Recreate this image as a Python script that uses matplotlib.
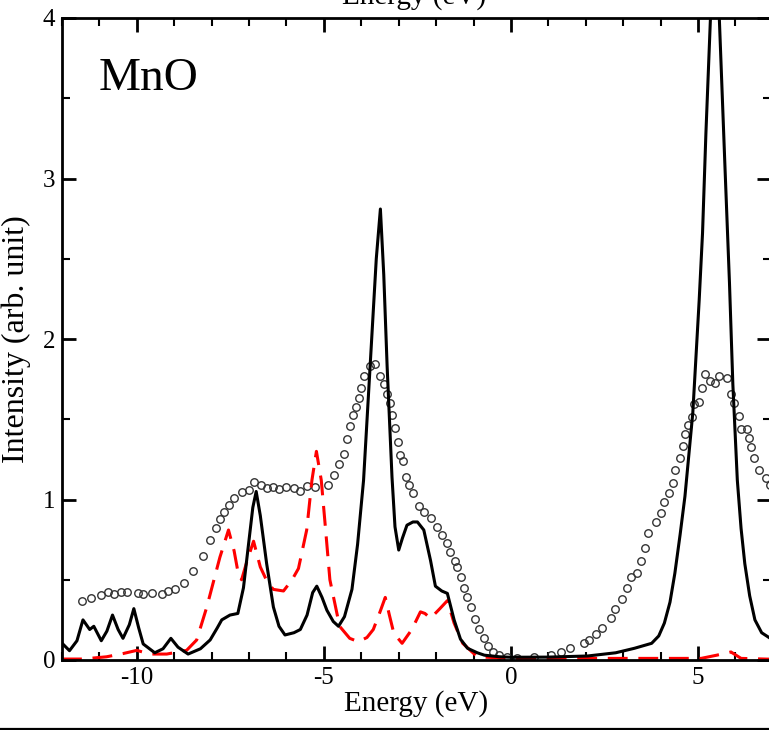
import matplotlib
matplotlib.use("Agg")
import matplotlib.pyplot as plt
from matplotlib.lines import Line2D
from matplotlib.ticker import MultipleLocator

plt.rcParams['font.family'] = ['Liberation Serif', 'DejaVu Serif']
plt.rcParams['axes.unicode_minus'] = False

# Linia ciągła (czarna)
energiaCiagla = [-12.0, -11.8, -11.6, -11.44, -11.26, -11.15, -10.95, -10.8, -10.65, -10.5,
                 -10.37, -10.2, -10.08, -9.95, -9.83, -9.52, -9.3, -9.09, -8.9, -8.63,
                 -8.3, -8.04, -7.85, -7.73, -7.51, -7.3, -7.15, -7.02, -6.9, -6.81,
                 -6.7, -6.53, -6.35, -6.2, -6.04, -5.8, -5.63, -5.45, -5.3, -5.19,
                 -5.05, -4.92, -4.75, -4.61, -4.45, -4.25, -4.1, -3.94, -3.76, -3.6,
                 -3.49, -3.4, -3.31, -3.18, -3.1, -3.0, -2.9, -2.78, -2.62, -2.5,
                 -2.33, -2.15, -2.02, -1.85, -1.7, -1.52, -1.35, -1.16, -0.9, -0.71,
                 -0.3, 0.0, 1.0, 2.05, 2.8, 3.3, 3.76, 3.95, 4.1, 4.25,
                 4.38, 4.52, 4.65, 4.86, 5.03, 5.12, 5.21, 5.33, 5.45, 5.57,
                 5.72, 5.84, 5.93, 6.05, 6.15, 6.25, 6.38, 6.52, 6.7, 6.93]
intensywnoscCiagla = [0.105, 0.058, 0.12, 0.25, 0.19, 0.21, 0.12, 0.18, 0.28, 0.19,
                      0.135, 0.22, 0.32, 0.2, 0.10, 0.045, 0.07, 0.135, 0.08, 0.037,
                      0.07, 0.125, 0.2, 0.25, 0.28, 0.29, 0.45, 0.71, 0.95, 1.05,
                      0.9, 0.60, 0.33, 0.21, 0.156, 0.17, 0.19, 0.28, 0.42, 0.46,
                      0.39, 0.31, 0.24, 0.21, 0.27, 0.44, 0.72, 1.12, 1.85, 2.5,
                      2.81, 2.4, 1.83, 1.14, 0.83, 0.685, 0.76, 0.84, 0.86, 0.86,
                      0.81, 0.62, 0.46, 0.43, 0.415, 0.25, 0.13, 0.073, 0.045, 0.03,
                      0.02, 0.017, 0.018, 0.025, 0.045, 0.073, 0.104, 0.15, 0.23, 0.36,
                      0.54, 0.78, 1.02, 1.54, 2.24, 2.66, 3.28, 3.99, 4.6, 3.99,
                      3.07, 2.35, 1.72, 1.12, 0.82, 0.60, 0.4, 0.25, 0.17, 0.135]

# Linia przerywana (czerwona)
energiaPrzerywana = [-12.0, -11.45, -10.81, -10.37, -10.0, -9.65, -9.2, -8.67, -8.4, -8.13,
                     -7.78, -7.55, -7.4, -7.29, -7.2, -7.05, -6.88, -6.7, -6.5, -6.35,
                     -6.08, -5.85, -5.68, -5.46, -5.32, -5.2, -5.07, -4.95, -4.84, -4.58,
                     -4.31, -4.08, -3.85, -3.68, -3.5, -3.36, -3.25, -3.13, -2.91, -2.65,
                     -2.42, -2.3, -2.15, -1.9, -1.7, -1.52, -1.29, -0.9, 0.0, 5.08,
                     5.5, 5.88, 6.15, 6.93]
intensywnoscPrzerywana = [0.006, 0.006, 0.02, 0.04, 0.06, 0.037, 0.037, 0.06, 0.125, 0.33,
                          0.64, 0.81, 0.68, 0.54, 0.50, 0.62, 0.74, 0.58, 0.48, 0.44,
                          0.43, 0.5, 0.57, 0.81, 1.12, 1.30, 1.12, 0.8, 0.50, 0.21,
                          0.135, 0.114, 0.14, 0.19, 0.3, 0.39, 0.28, 0.166, 0.104, 0.19,
                          0.30, 0.29, 0.26, 0.32, 0.37, 0.23, 0.104, 0.02, 0.01, 0.01,
                          0.03, 0.05, 0.01, 0.005]

# Punkty (kółka)
energiaPunkty = [-11.455, -11.232, -10.964, -10.758, -10.598, -10.42, -10.26, -9.973, -9.84, -9.598,
                 -9.33, -9.17, -8.99, -8.75, -8.5, -8.24, -8.04, -7.88, -7.77, -7.66,
                 -7.54, -7.41, -7.19, -7.01, -6.86, -6.69, -6.51, -6.35, -6.19, -6.01,
                 -5.81, -5.63, -5.44, -5.23, -4.90, -4.74, -4.59, -4.455, -4.38, -4.31,
                 -4.22, -4.15, -4.07, -4.0, -3.92, -3.78, -3.64, -3.51, -3.40, -3.31,
                 -3.22, -3.18, -3.09, -3.02, -2.955, -2.89, -2.80, -2.73, -2.62, -2.46,
                 -2.32, -2.14, -1.99, -1.84, -1.71, -1.63, -1.50, -1.44, -1.33, -1.26,
                 -1.17, -1.08, -0.95, -0.86, -0.73, -0.61, -0.48, -0.33, -0.1, 0.15,
                 0.61, 1.07, 1.34, 1.59, 1.94, 2.09, 2.27, 2.43, 2.67, 2.79,
                 2.98, 3.09, 3.20, 3.38, 3.47, 3.59, 3.67, 3.88, 4.0, 4.10,
                 4.22, 4.32, 4.39, 4.52, 4.59, 4.65, 4.73, 4.84, 4.90, 5.02,
                 5.11, 5.19, 5.32, 5.44, 5.55, 5.77, 5.87, 5.95, 6.09, 6.15,
                 6.31, 6.36, 6.42, 6.49, 6.64, 6.82, 6.91]
intensywnoscPunkty = [0.368, 0.384, 0.405, 0.422, 0.409, 0.426, 0.422, 0.415, 0.409, 0.415,
                      0.411, 0.432, 0.442, 0.478, 0.556, 0.648, 0.748, 0.82, 0.879, 0.92,
                      0.966, 1.011, 1.045, 1.059, 1.107, 1.09, 1.07, 1.076, 1.063, 1.076,
                      1.07, 1.053, 1.084, 1.076, 1.09, 1.155, 1.219, 1.283, 1.375, 1.458,
                      1.525, 1.578, 1.63, 1.697, 1.77, 1.832, 1.842, 1.77, 1.718, 1.657,
                      1.6, 1.527, 1.444, 1.356, 1.277, 1.24, 1.142, 1.09, 1.042, 0.961,
                      0.92, 0.883, 0.83, 0.781, 0.731, 0.671, 0.617, 0.578, 0.515, 0.45,
                      0.39, 0.332, 0.255, 0.195, 0.135, 0.089, 0.052, 0.031, 0.02, 0.015,
                      0.021, 0.034, 0.052, 0.075, 0.104, 0.125, 0.16, 0.197, 0.26, 0.316,
                      0.38, 0.447, 0.515, 0.544, 0.617, 0.70, 0.793, 0.862, 0.918, 0.983,
                      1.038, 1.105, 1.184, 1.257, 1.333, 1.406, 1.464, 1.516, 1.593, 1.609,
                      1.697, 1.78, 1.74, 1.724, 1.769, 1.759, 1.655, 1.60, 1.52, 1.44,
                      1.437, 1.385, 1.325, 1.257, 1.184, 1.132, 1.09]

fig = plt.figure(figsize=(7.69, 7.30), dpi=100)
ax = fig.add_axes([62 / 769, 70 / 730, 709 / 769, 642 / 730])

ax.plot(energiaPunkty, intensywnoscPunkty, linestyle='none', marker='o', ms=5.4,
        mfc='none', mec='#333333', mew=1.0)
ax.plot(energiaPrzerywana, intensywnoscPrzerywana, color='red', lw=2.2,
        linestyle=(0, (6.5, 3.5)))
ax.plot(energiaCiagla, intensywnoscCiagla, color='black', lw=2.2)

ax.set_xlim(-12, 6.95)
ax.set_ylim(0, 4)
ax.xaxis.set_major_locator(MultipleLocator(5))
ax.xaxis.set_minor_locator(MultipleLocator(1))
ax.yaxis.set_major_locator(MultipleLocator(1))
ax.yaxis.set_minor_locator(MultipleLocator(0.5))
ax.tick_params(which='both', direction='in', top=True, right=True, labelsize=18, pad=5)
ax.tick_params(which='major', length=10, width=2)
ax.tick_params(which='minor', length=6, width=1.5)
for spina in ax.spines.values():
    spina.set_linewidth(2)

ax.set_xlabel("Energy (eV)", fontsize=21, labelpad=1)
ax.set_ylabel("Intensity (arb. unit)", fontsize=23, labelpad=8)
ax.text(0.052, 0.905, "MnO", transform=ax.transAxes, fontsize=34, ha='left', va='center')

# Ucięty górny opis osi
fig.text(ax.get_position().x0 + ax.get_position().width / 2 - 0.003, 1 - 10 / 730,
         "Energy (eV)", fontsize=21, ha='center', va='bottom')
fig.add_artist(Line2D([0, 1], [1.5 / 730, 1.5 / 730], color='black', lw=1.6))

plt.savefig("out.png", dpi=100)
